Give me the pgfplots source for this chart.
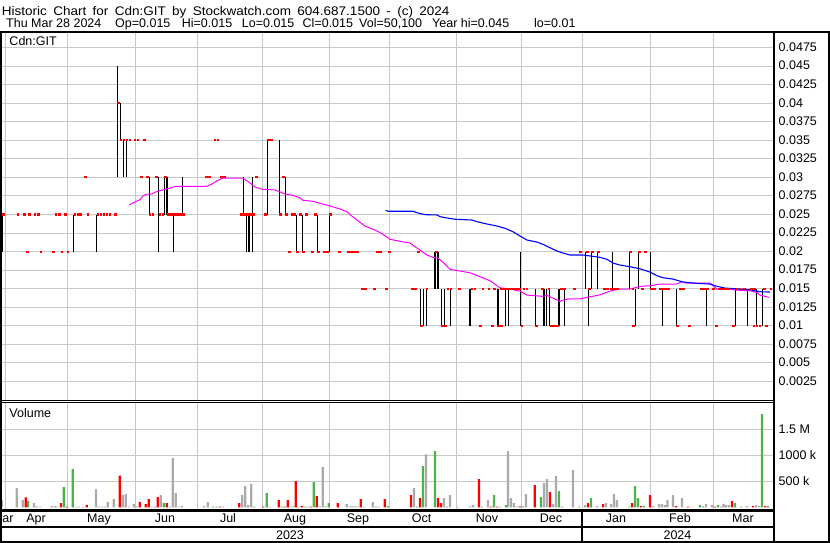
\documentclass[border=0pt]{standalone}
\usepackage{pgfplots}
\usepackage{pgfplotstable}
\pgfplotsset{compat=1.18}
\usepackage{fontspec}
\setmainfont{Liberation Sans}
\newfontfamily\hdrfont[FakeStretch=1.08, WordSpace=1.7]{Liberation Sans}
\definecolor{gridgray}{RGB}{200,200,200}
\definecolor{volgreen}{RGB}{76,178,76}
\definecolor{volgray}{RGB}{170,170,170}
\definecolor{mablue}{RGB}{0,0,255}
\definecolor{mamag}{RGB}{255,0,255}
\definecolor{dashred}{RGB}{255,0,0}
\newcommand{\cf}{\fontsize{12.5bp}{14bp}\selectfont}

% high-low bars (x in chart pixels, prices), nan separates bars
\pgfplotstableread{
x y
2.5 0.02
2.5 0.025
nan nan
73.3 0.02
73.3 0.025
nan nan
96.3 0.02
96.3 0.025
nan nan
117.3 0.03
117.3 0.045
nan nan
120.3 0.035
120.3 0.04
nan nan
123.3 0.03
123.3 0.035
nan nan
126.3 0.03
126.3 0.035
nan nan
149.3 0.025
149.3 0.03
nan nan
158.3 0.02
158.3 0.03
nan nan
164.3 0.025
164.3 0.03
nan nan
167.0 0.025
167.0 0.03
nan nan
173.3 0.02
173.3 0.025
nan nan
182.3 0.025
182.3 0.03
nan nan
243.3 0.025
243.3 0.03
nan nan
246.3 0.02
246.3 0.025
nan nan
249.0 0.02
249.0 0.025
nan nan
252.3 0.02
252.3 0.03
nan nan
267.3 0.025
267.3 0.035
nan nan
279.3 0.025
279.3 0.035
nan nan
285.3 0.025
285.3 0.03
nan nan
296.3 0.02
296.3 0.025
nan nan
302.7 0.02
302.7 0.025
nan nan
317.3 0.02
317.3 0.025
nan nan
329.3 0.02
329.3 0.025
nan nan
420.7 0.01
420.7 0.015
nan nan
423.3 0.01
423.3 0.015
nan nan
426.7 0.01
426.7 0.015
nan nan
435.0 0.015
435.0 0.02
nan nan
438.0 0.015
438.0 0.02
nan nan
441.7 0.01
441.7 0.015
nan nan
444.3 0.01
444.3 0.015
nan nan
450.7 0.01
450.7 0.015
nan nan
470.0 0.01
470.0 0.015
nan nan
498.0 0.01
498.0 0.015
nan nan
505.7 0.01
505.7 0.015
nan nan
508.3 0.01
508.3 0.015
nan nan
520.3 0.01
520.3 0.02
nan nan
535.7 0.01
535.7 0.015
nan nan
544.0 0.01
544.0 0.015
nan nan
546.7 0.01
546.7 0.015
nan nan
549.3 0.01
549.3 0.015
nan nan
559.0 0.01
559.0 0.015
nan nan
564.3 0.01
564.3 0.015
nan nan
585.7 0.015
585.7 0.02
nan nan
588.3 0.01
588.3 0.015
nan nan
591.7 0.015
591.7 0.02
nan nan
597.3 0.015
597.3 0.02
nan nan
612.7 0.015
612.7 0.02
nan nan
629.3 0.015
629.3 0.02
nan nan
635.3 0.01
635.3 0.015
nan nan
638.3 0.015
638.3 0.02
nan nan
650.5 0.015
650.5 0.02
nan nan
662.3 0.01
662.3 0.015
nan nan
676.3 0.01
676.3 0.015
nan nan
706.3 0.01
706.3 0.015
nan nan
735.5 0.01
735.5 0.015
nan nan
747.5 0.01
747.5 0.015
nan nan
756.7 0.01
756.7 0.015
nan nan
762.7 0.01
762.7 0.015
}\hlbars

% red price ticks
\pgfplotstableread{
x y
118.7 0.04
121 0.035
124 0.035
127 0.035
130 0.035
135 0.035
138 0.035
144.5 0.035
215 0.035
218 0.035
268.5 0.035
271.5 0.035
85.3 0.03
141.3 0.03
147.5 0.03
156.5 0.03
165.5 0.03
206.5 0.03
209.5 0.03
221.5 0.03
224.5 0.03
256.3 0.03
283.7 0.03
3.5 0.025
18 0.025
24.5 0.025
29.5 0.025
35 0.025
38.5 0.025
56 0.025
59.5 0.025
65.5 0.025
75 0.025
78 0.025
80.5 0.025
88 0.025
98 0.025
101 0.025
104 0.025
107 0.025
110 0.025
115.5 0.025
150 0.025
153 0.025
160 0.025
163 0.025
168.5 0.025
171.5 0.025
174.5 0.025
177.5 0.025
180.5 0.025
183.5 0.025
241.5 0.025
244.5 0.025
247.5 0.025
250.5 0.025
253.5 0.025
265.7 0.025
280.3 0.025
286.3 0.025
292 0.025
294.7 0.025
300.7 0.025
306.3 0.025
315.7 0.025
330.5 0.025
27.5 0.02
41 0.02
53.5 0.02
62 0.02
68 0.02
289.3 0.02
297.3 0.02
303.7 0.02
312.5 0.02
318.7 0.02
324.7 0.02
327.7 0.02
339.7 0.02
348.5 0.02
351.5 0.02
354.5 0.02
357.7 0.02
377.5 0.02
380.5 0.02
389.5 0.02
418.7 0.02
436.5 0.02
580.7 0.02
587.3 0.02
592.7 0.02
598.7 0.02
630.7 0.02
639.7 0.02
645.5 0.02
362.5 0.015
365.5 0.015
374.3 0.015
386.3 0.015
412.5 0.015
415.5 0.015
427 0.015
448 0.015
451 0.015
459.5 0.015
472 0.015
475 0.015
483 0.015
489 0.015
494.7 0.015
501.5 0.015
504.5 0.015
507.5 0.015
510.5 0.015
513.5 0.015
516.5 0.015
519.5 0.015
524 0.015
527 0.015
542.5 0.015
549 0.015
561.5 0.015
564.5 0.015
574.7 0.015
589.7 0.015
604.7 0.015
607.7 0.015
611.5 0.015
614.5 0.015
617.5 0.015
633 0.015
642.5 0.015
651.5 0.015
654.5 0.015
660.5 0.015
663.5 0.015
666.5 0.015
669 0.015
680.5 0.015
683.5 0.015
701.5 0.015
704.5 0.015
707.5 0.015
713.5 0.015
719.5 0.015
722.5 0.015
725.5 0.015
728.5 0.015
737 0.015
740 0.015
744.3 0.015
751.5 0.015
754.5 0.015
764.5 0.015
771 0.015
421.3 0.01
442.5 0.01
445.5 0.01
480.8 0.01
492.3 0.01
498.8 0.01
501.8 0.01
522 0.01
536.7 0.01
551.5 0.01
554.5 0.01
557.5 0.01
633.3 0.01
677.5 0.01
689.3 0.01
716.5 0.01
733.7 0.01
754 0.01
757 0.01
760 0.01
766.7 0.01
}\redticks

% moving averages
\pgfplotstableread{
x y
129.3 0.02629
135 0.02669
140 0.02700
143 0.02750
146.7 0.02773
152 0.02777
155 0.02800
160 0.02821
165 0.02840
172 0.02862
175 0.02881
207 0.02881
212 0.02912
218 0.02962
222 0.02989
243 0.02989
250 0.02925
255 0.02871
262 0.02840
275 0.02831
280 0.02804
285 0.02777
293 0.02759
300 0.02723
303 0.02692
313 0.02678
320 0.02651
330 0.02615
340 0.02575
347 0.02538
350 0.02498
357 0.02426
365 0.02345
375 0.02291
383 0.02233
390 0.02166
400 0.02139
410 0.02116
415 0.02066
420 0.02021
427 0.01954
433 0.01923
438 0.01913
445 0.01832
450 0.01761
460 0.01738
470 0.01715
480 0.01661
490 0.01607
500 0.01513
510 0.01495
520 0.01468
527 0.01414
543 0.01397
547 0.01410
555 0.01360
560 0.01329
563 0.01347
570 0.01364
580 0.01364
590 0.01391
600 0.01418
610 0.01468
620 0.01495
630 0.01495
640 0.01532
650 0.01540
660 0.01563
676.7 0.01563
681.7 0.01594
686.7 0.01576
710 0.01576
713.3 0.01540
716.7 0.01495
730 0.01495
735 0.01482
750 0.01472
756.7 0.01451
760 0.01414
766.7 0.01391
769.3 0.01383
}\mashort

\pgfplotstableread{
x y
385.7 0.02557
388 0.02544
413 0.02544
418 0.02521
425 0.02498
437 0.02494
440 0.02471
447 0.02453
455 0.02436
472 0.02426
477 0.02403
487 0.02372
497 0.02345
505 0.02314
513 0.02268
520 0.02210
527 0.02156
537 0.02129
543 0.02098
550 0.02052
557 0.02008
563 0.01981
570 0.01954
583 0.01954
593 0.01936
600 0.01923
607 0.01896
613 0.01846
620 0.01819
630 0.01796
640 0.01769
650 0.01724
657 0.01675
663 0.01648
673 0.01630
683 0.01590
697 0.01572
710 0.01563
717 0.01532
725 0.01509
740 0.01495
750 0.01486
760 0.01459
770 0.01455
}\malong

% volume (thousands of shares)
\pgfplotstableread{
x y
28 123
55 20
63.7 392
72.7 738
154.7 15
163.7 85
204 20
213.3 15
216.7 15
254.3 15
266.7 277
281.7 15
304.7 15
313.7 488
328.7 85
375.7 15
387.7 27
417 15
423 796
435 1085
447 15
482 15
494 238
506 46
523 20
541 200
559 315
579 15
591 181
629 15
635 412
638 181
644 27
700 46
718 46
735 85
762 1796
768 27
}\vgreen

\pgfplotstableread{
x y
25.7 192
61 85
66.7 15
86.7 46
119.7 610
139.7 104
145.7 65
148.7 162
157.7 200
166.7 85
220 15
239.3 85
263.3 15
278.7 142
284.7 15
287.7 142
295.7 508
301.7 27
310.7 15
316.7 219
337.7 85
360.7 162
384.7 162
411 238
420 181
438 181
441 85
479 546
491 15
497 15
520 20
534.7 431
550 296
588 85
603 65
632 85
641 27
650 238
676 27
688 15
715 15
732 123
753 27
765 27
}\vred

\pgfplotstableread{
x y
1.7 142
16.7 373
22.7 142
34 85
36.7 20
40 15
51.7 27
57.3 15
75.7 15
78.7 15
83.3 15
96 354
98.7 15
101.7 15
104.7 15
107.7 104
113.7 162
122.7 238
125.7 258
128.7 15
133.7 65
136.7 20
151.7 15
160.7 238
169.7 15
172.7 950
175.7 277
178.7 15
181.7 27
207.7 104
222.7 15
242.3 238
245.3 412
248.3 46
251.3 450
270 15
290.7 15
293.3 20
298.7 15
307.7 15
319.7 20
322.7 777
325.7 20
346.7 65
350 20
352.7 20
355.3 20
358 15
363.7 15
372.7 104
378.7 15
414 373
426 1021
444 181
450 238
458 15
470 20
473 46
488 142
500 15
508 1085
511 181
514 85
517 20
526 258
544 469
547 546
553 65
556 604
562 20
573 719
585 46
597 27
606 85
611 65
614 258
617 142
653 27
659 65
662 65
665 46
667.5 142
673 238
682 181
703 27
706 65
712 46
721 20
723.5 65
726 46
729 46
741 20
747 27
756 46
759 27
}\vgray

\begin{document}
\begin{tikzpicture}[font=\cf]
\useasboundingbox (0,0) rectangle (830bp,-543bp);
\fill[white] (0,0) rectangle (830bp,-543bp);

% ---------------- price panel ----------------
\begin{axis}[
  at={(2bp,-400bp)}, anchor=south west,
  width=771bp, height=368bp, scale only axis,
  xmin=2, xmax=773, ymin=0, ymax=0.0496,
  axis line style={draw=none}, major tick length=0pt,
  xtick={5.5,67,135,197,262,329,389,456,521,582,650,713},
  xticklabels={},
  ytick={0.0025,0.005,0.0075,0.01,0.0125,0.015,0.0175,0.02,0.0225,0.025,0.0275,0.03,0.0325,0.035,0.0375,0.04,0.0425,0.045,0.0475},
  yticklabels={0.0025,0.005,0.0075,0.01,0.0125,0.015,0.0175,0.02,0.0225,0.025,0.0275,0.03,0.0325,0.035,0.0375,0.04,0.0425,0.045,0.0475},
  scaled y ticks=false,
  yticklabel pos=right,
  yticklabel style={anchor=west, inner sep=0pt, xshift=5.5bp, yshift=0.5bp, font=\cf},
  grid=major, major grid style={draw=gridgray, line width=1bp},
  unbounded coords=jump,
]
\addplot[black, line width=1.1bp, mark=none] table[x=x,y=y] {\hlbars};
\addplot[only marks, mark=-, mark size=1.4bp, color=dashred, mark options={solid, line width=2.1bp}] table[x=x,y=y] {\redticks};
\addplot[mamag, line width=1bp, mark=none] table[x=x,y=y] {\mashort};
\addplot[mablue, line width=1.1bp, mark=none] table[x=x,y=y] {\malong};
\end{axis}

% ---------------- volume panel ----------------
\begin{axis}[
  at={(2bp,-509bp)}, anchor=south west,
  width=771bp, height=107bp, scale only axis,
  xmin=2, xmax=773, ymin=-30, ymax=2028,
  axis line style={draw=none}, major tick length=0pt,
  xtick={5.5,67,135,197,262,329,389,456,521,582,650,713},
  xticklabels={},
  ytick={500,1000,1500},
  yticklabels={500 k,1000 k,1.5 M},
  scaled y ticks=false,
  yticklabel pos=right,
  yticklabel style={anchor=west, inner sep=0pt, xshift=5.5bp, yshift=0.5bp, font=\cf},
  grid=major, major grid style={draw=gridgray, line width=1bp},
]
\addplot[ybar, bar width=2.2bp, bar shift=0pt, fill=volgray, draw=none] table[x=x,y=y] {\vgray};
\addplot[ybar, bar width=2.2bp, bar shift=0pt, fill=red, draw=none] table[x=x,y=y] {\vred};
\addplot[ybar, bar width=2.2bp, bar shift=0pt, fill=volgreen, draw=none] table[x=x,y=y] {\vgreen};
\end{axis}

\begin{scope}[x=1bp,y=-1bp]
% header
\node[anchor=base west, inner sep=0, font=\hdrfont\cf] at (1.7,15.3) {Historic Chart for Cdn:GIT by Stockwatch.com 604.687.1500 - (c) 2024};
\node[anchor=base west, inner sep=0] at (6,27.5) {Thu Mar 28 2024};
\node[anchor=base west, inner sep=0] at (115,27.5) {Op=0.015};
\node[anchor=base west, inner sep=0] at (181.7,27.5) {Hi=0.015};
\node[anchor=base west, inner sep=0] at (241.7,27.5) {Lo=0.015};
\node[anchor=base west, inner sep=0] at (302.5,27.5) {Cl=0.015};
\node[anchor=base west, inner sep=0] at (359,27.5) {Vol=50,100};
\node[anchor=base west, inner sep=0] at (432,27.5) {Year hi=0.045};
\node[anchor=base west, inner sep=0] at (534,27.5) {lo=0.01};
% panel titles
\node[anchor=base west, inner sep=0] at (9.3,45.7) {Cdn:GIT};
\node[anchor=base west, inner sep=0] at (9.3,417.7) {Volume};
% month labels (the first month shows only its last letters, as in the source)
\node[anchor=base west, inner sep=0] at (2.2,522.7) {ar};
\foreach \xx/\mm in {36/Apr,99/May,165/Jun,228/Jul,295/Aug,358/Sep,421.5/Oct,487/Nov,551/Dec,616/Jan,680/Feb,743/Mar}{
  \node[anchor=base, inner sep=0] at (\xx,522.7) {\mm};
}
\node[anchor=base, inner sep=0] at (290,539) {2023};
\node[anchor=base, inner sep=0] at (677.5,539) {2024};
% frame
\fill[black] (0,30.7) rectangle (830,32.7);
\fill[black] (0,31) rectangle (1.7,543);
\fill[black] (772.7,31) rectangle (775,543);
\fill[black] (827.7,31) rectangle (830,543);
\fill[black] (0,399.7) rectangle (773,400.7);
\fill[black] (0,401.7) rectangle (773,402.7);
\fill[black] (0,509.3) rectangle (773,511.7);
\fill[black] (0,526) rectangle (773,528.3);
\fill[black] (0,540.7) rectangle (830,543);
\fill[black] (581.4,510) rectangle (583.2,541);
\end{scope}
\end{tikzpicture}
\end{document}
